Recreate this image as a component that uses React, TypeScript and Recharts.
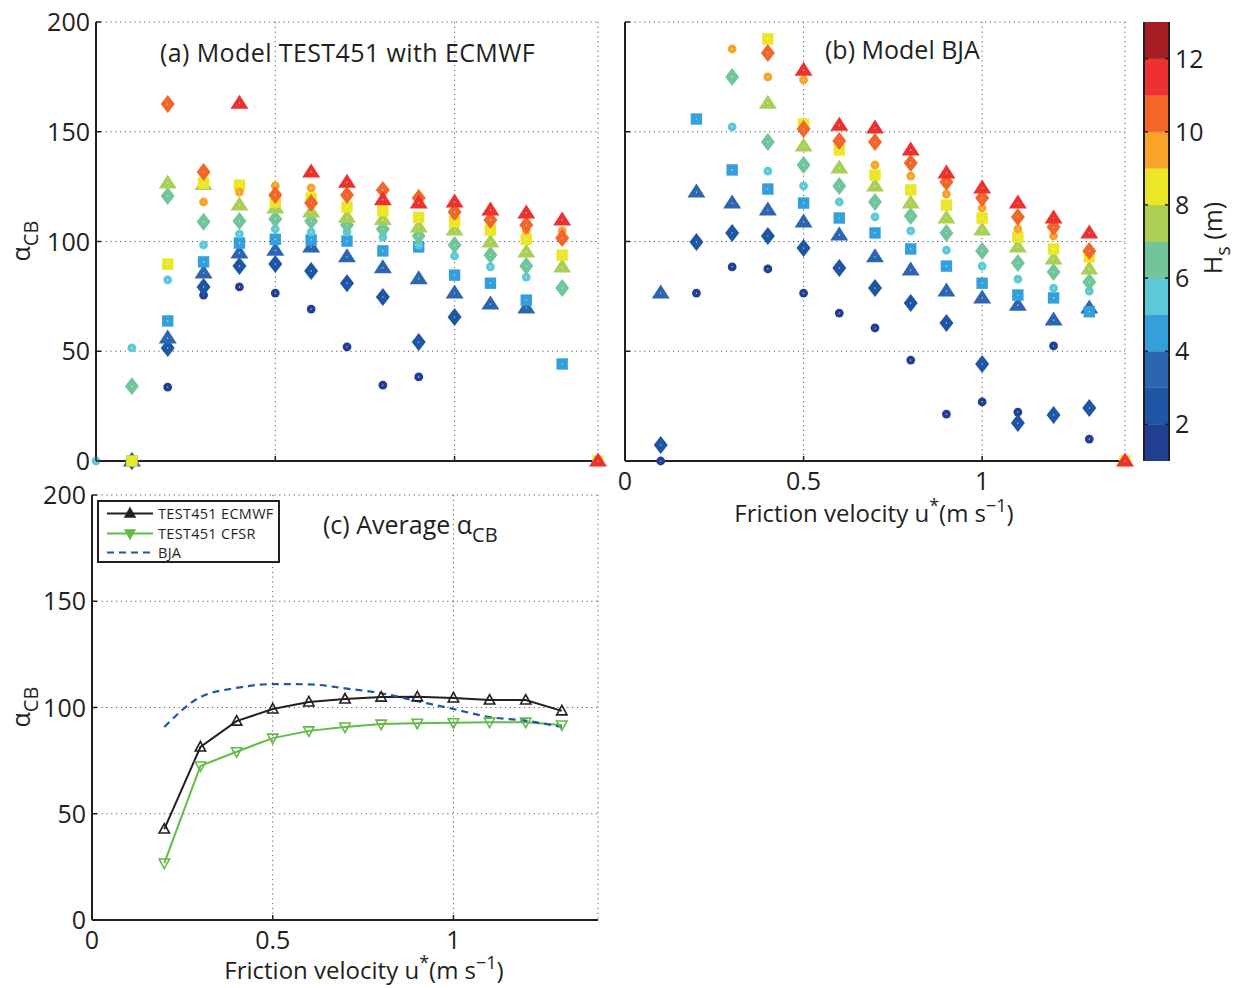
import React from 'react';
import {
  ScatterChart, Scatter, XAxis, YAxis, CartesianGrid,
  LineChart, Line, Legend, BarChart, Bar,
} from 'recharts';

const INK = '#231f20';
const GRID = '#58595b';
const FONT = '"Open Sans", "Noto Sans", sans-serif';

// friction velocity u* (m/s)
const uStar = [0, 0.1, 0.2, 0.3, 0.4, 0.5, 0.6, 0.7, 0.8, 0.9, 1.0, 1.1, 1.2, 1.3, 1.4];

// Hs colour bins (m)
const hsEdges = [1, 2, 3, 4, 5, 6, 7, 8, 9, 10, 11, 12, 13];
const hsColors = ['#233f92', '#1e56a5', '#2c66b1', '#34a0db', '#5cc8d8', '#72c59a', '#a9cf54', '#ebe727', '#f8a42b', '#f26729', '#ed3131', '#a51d23'];
const hsMarkers = ['dot', 'diamond', 'triangle', 'square', 'dot', 'diamond', 'triangle', 'square', 'dot', 'diamond', 'triangle', 'square'];
const hsTicks = [2, 4, 6, 8, 10, 12];

const xTicks = [0, 0.5, 1];
const yTicks = [0, 50, 100, 150, 200];

// (a) Model TEST451 with ECMWF — alpha_CB per Hs bin, indexed like uStar
const aHs1 = [null, null, 33.7, 75.6, 79.3, 76.5, 69.2, 52, 34.6, 38.3, null, null, null, null, null];
const aHs2 = [null, 0, 51.5, 79.3, 88.8, 89.7, 86.6, 81, 74.7, 54.2, 65.6, null, null, null, null];
const aHs3 = [null, 0, 56, 85.6, 94.8, 96, 97.5, 93, 88, 83, 76.5, 71.5, 69.7, null, null];
const aHs4 = [null, 0, 63.8, 90.7, 99.3, 101, 100.7, 100.2, 95.7, 97.5, 84.7, 81, 73.3, 44.2, null];
const aHs5 = [0, 51.5, 82.5, 98.4, 103.4, 105.7, 104.3, 104.3, 102, 98.4, 93.4, 88.4, 83.8, null, null];
const aHs6 = [null, 34, 120.7, 109, 109.3, 110.3, 109.3, 107.5, 105.7, 102.5, 98.4, 93.8, 88.8, 78.8, null];
const aHs7 = [null, null, 126.6, 126, 116.6, 115.3, 113.4, 111, 110, 106.6, 105.2, 99.8, 95.2, 88.4, null];
const aHs8 = [null, 0, 89.7, 126.6, 125.7, 118, 119.8, 115.7, 114, 111, 109, 105.2, 101, 93.8, 0];
const aHs9 = [null, null, null, 118, 122.5, 125.3, 124.4, 121, 123, 119.5, 112, 110, 105, 104.8, 0];
const aHs10 = [null, null, 162.6, 131.7, null, 121.2, 117.5, 121.2, 123.5, 119.8, 113.4, 109.8, 107.5, 101.6, null];
const aHs11 = [null, null, null, null, 163, null, 131.7, 127, 119, 117.5, 118, 114.4, 113, 109.8, 0];
const aSeries = [aHs1, aHs2, aHs3, aHs4, aHs5, aHs6, aHs7, aHs8, aHs9, aHs10, aHs11];

// (b) Model BJA
const bHs1 = [null, 0, 76.5, 88.4, 87.5, 76.5, 67.4, 60.6, 46, 21.4, 26.9, 22.3, 52.4, 10, null];
const bHs2 = [null, 7.3, 99.8, 103.9, 102.5, 97, 87.9, 78.8, 72, 62.9, 44.2, 17.3, 21, 24.1, null];
const bHs3 = [null, 76.5, 122.5, 117.5, 114.4, 108.9, 103, 93, 87, 77.4, 74.3, 71, 64.2, 69.7, null];
const bHs4 = [null, null, 155.8, 132.6, 123.9, 117.5, 110.7, 103.9, 96.6, 88.8, 81, 75.6, 74.3, 68, null];
const bHs5 = [null, null, null, 152.2, 132.1, 125.3, 118, 111.2, 104.8, 96.1, 88.8, 82.9, 78.8, 77.4, null];
const bHs6 = [null, null, null, 175, 145.3, 134.9, 125.3, 118, 111.6, 103.9, 95.7, 90.2, 86.1, 81.5, null];
const bHs7 = [null, null, null, null, 163, 143.5, 133.5, 125.3, 117.5, 110.7, 105.2, 97.5, 92, 87.5, null];
const bHs8 = [null, null, null, null, 192.3, 153.5, 141.7, 130.3, 123.5, 116.6, 110.7, 102, 96.6, 93, 0];
const bHs9 = [null, null, null, 187.7, 175, 173.6, 146, 134.9, 129.8, 121.6, 115.3, 105.7, 102.5, 96, null];
const bHs10 = [null, null, null, null, 185.9, 151.3, 145.8, 145.3, 135.8, 127.1, 119.8, 111.2, 106.6, 95.7, null];
const bHs11 = [null, null, null, null, null, 178, 153, 151.7, 141.7, 131.2, 124.4, 117.5, 110.7, 103.9, 0];
const bSeries = [bHs1, bHs2, bHs3, bHs4, bHs5, bHs6, bHs7, bHs8, bHs9, bHs10, bHs11];

// (c) Average alpha_CB
const uC = [0.2, 0.3, 0.4, 0.5, 0.6, 0.7, 0.8, 0.9, 1.0, 1.1, 1.2, 1.3];
const ecmwfAvg = [42.8, 81.4, 93.6, 99.3, 102.6, 104, 104.9, 105, 104.5, 103.5, 103.5, 98.4];
const cfsrAvg = [26.8, 72.5, 79.2, 85.6, 89, 90.8, 92.2, 92.6, 92.8, 93.1, 93.1, 91.8];
const bjaAvg = [90.8, 104.9, 109.2, 111, 110.9, 109, 106.7, 103, 99.3, 95.5, 93.8, 90.8];
const legendLabels = ['TEST451 ECMWF', 'TEST451 CFSR', 'BJA'];

const toPoints = (vals: (number | null)[]) =>
  uStar.map((u, i) => ({ u, v: vals[i] })).filter((p) => p.v !== null);

const cRows = uC.map((u, i) => ({ u, ecmwf: ecmwfAvg[i], cfsr: cfsrAvg[i], bja: bjaAvg[i] }));

// colour bar as one stacked bar: an invisible base up to the first edge, then one segment per bin
const cbRow: any = { c: 'Hs', base: hsEdges[0] };
hsColors.forEach((_, i) => {
  cbRow[`h${i}`] = hsEdges[i + 1] - hsEdges[i];
});
const cbData = [cbRow];

function markerShape(kind: string, color: string) {
  return (props: any) => {
    const { cx, cy } = props;
    if (typeof cx !== 'number' || typeof cy !== 'number') return <g />;
    let el: any;
    if (kind === 'dot') el = <circle cx={cx} cy={cy} r={4.4} fill={color} />;
    else if (kind === 'diamond')
      el = <path d={`M${cx},${cy - 9}L${cx + 7},${cy}L${cx},${cy + 9}L${cx - 7},${cy}Z`} fill={color} />;
    else if (kind === 'triangle')
      el = <path d={`M${cx},${cy - 8.5}L${cx + 9},${cy + 5.5}L${cx - 9},${cy + 5.5}Z`} fill={color} />;
    else el = <rect x={cx - 5.7} y={cy - 5.7} width={11.4} height={11.4} fill={color} />;
    return (
      <g>
        {el}
        <circle cx={cx} cy={cy} r={0.6} fill="#fff" />
      </g>
    );
  };
}

const TM = 8;
const TICK_FS = 25;
const leftTick = (withLabel: boolean, len = 5) => (props: any) => {
  const { x, y, payload } = props;
  const ax = x + TM;
  return (
    <g>
      <line x1={ax} y1={y} x2={ax + len} y2={y} stroke={INK} strokeWidth={1.5} />
      {withLabel ? (
        <text x={ax - 6} y={y + 9} textAnchor="end" fontFamily={FONT} fontSize={TICK_FS} fill={INK}>
          {payload.value}
        </text>
      ) : null}
    </g>
  );
};
const bottomTick = (withLabel: boolean) => (props: any) => {
  const { x, y, payload } = props;
  const ay = y - TM;
  return (
    <g>
      <line x1={x} y1={ay} x2={x} y2={ay - 5} stroke={INK} strokeWidth={1.5} />
      {withLabel ? (
        <text x={x} y={ay + 29} textAnchor="middle" fontFamily={FONT} fontSize={TICK_FS} fill={INK}>
          {payload.value}
        </text>
      ) : null}
    </g>
  );
};
const cbRightTick = (props: any) => {
  const { x, y, payload } = props;
  const ax = x - TM;
  return (
    <g>
      <line x1={ax} y1={y} x2={ax - 4} y2={y} stroke={INK} strokeWidth={1.5} />
      <text x={ax + 6} y={y + 9} textAnchor="start" fontFamily={FONT} fontSize={TICK_FS} fill={INK}>
        {payload.value}
      </text>
    </g>
  );
};

const axisLine = { stroke: INK, strokeWidth: 2 };

function ScatterPanel(props: { series: (number | null)[][]; width: number; height: number; margin: any; yWidth: number; xHeight: number; yLabels: boolean; xLabels: boolean }) {
  const { series, width, height, margin, yWidth, xHeight, yLabels, xLabels } = props;
  return (
    <ScatterChart width={width} height={height} margin={margin}>
      <CartesianGrid stroke={GRID} strokeDasharray="1.2 3.6" strokeWidth={1} />
      <XAxis
        type="number" dataKey="u" domain={[0, 1.4]} ticks={xTicks} interval={0} height={xHeight}
        tickSize={0} tickMargin={TM} tickLine={false} tick={bottomTick(xLabels)} axisLine={axisLine}
      />
      <YAxis
        type="number" dataKey="v" domain={[0, 200]} ticks={yTicks} interval={0} width={yWidth}
        tickSize={0} tickMargin={TM} tickLine={false} tick={leftTick(yLabels)} axisLine={axisLine}
      />
      {series.map((vals, i) => (
        <Scatter
          key={i}
          data={toPoints(vals)}
          fill={hsColors[i]}
          shape={markerShape(hsMarkers[i], hsColors[i])}
          isAnimationActive={false}
        />
      ))}
    </ScatterChart>
  );
}

const upTriDot = (props: any) => {
  const { cx, cy, index } = props;
  return (
    <path key={`e${index}`} d={`M${cx},${cy - 5.5}L${cx + 5.2},${cy + 4}L${cx - 5.2},${cy + 4}Z`} fill="none" stroke={INK} strokeWidth={1.6} />
  );
};
const downTriDot = (props: any) => {
  const { cx, cy, index } = props;
  return (
    <path key={`c${index}`} d={`M${cx},${cy + 5.5}L${cx + 5.2},${cy - 4}L${cx - 5.2},${cy - 4}Z`} fill="none" stroke="#62bb46" strokeWidth={1.6} />
  );
};

const legendStyles = [
  { color: INK, dash: undefined as string | undefined, marker: 'up' },
  { color: '#62bb46', dash: undefined as string | undefined, marker: 'down' },
  { color: '#1f56a8', dash: '7 5', marker: 'none' },
];

const renderLegend = () => (
  <div
    style={{
      boxSizing: 'border-box', width: 183, height: 63, border: `2px solid ${INK}`, background: '#fff',
      fontFamily: FONT, fontSize: 14.5, color: INK, position: 'relative',
    }}
  >
    {legendLabels.map((lab, i) => {
      const st = legendStyles[i];
      const top = [4, 23.5, 43][i];
      return (
        <div key={lab} style={{ position: 'absolute', left: 8, top, height: 15, display: 'flex', alignItems: 'center', whiteSpace: 'nowrap', lineHeight: '15px' }}>
          <svg width={48} height={15} style={{ display: 'block' }}>
            <line x1={0} y1={7.5} x2={46} y2={7.5} stroke={st.color} strokeWidth={2} strokeDasharray={st.dash} />
            {st.marker === 'up' ? <path d="M23,2L28,11L18,11Z" fill={INK} stroke={INK} strokeWidth={1.4} /> : null}
            {st.marker === 'down' ? <path d="M23,13L28,4L18,4Z" fill="#62bb46" stroke="#62bb46" strokeWidth={1.4} /> : null}
          </svg>
          <span style={{ marginLeft: 3, display: 'inline-block', height: 15, lineHeight: '15px', letterSpacing: '0.3px' }}>{lab}</span>
        </div>
      );
    })}
  </div>
);

const textBase: any = {
  position: 'absolute', fontFamily: FONT, fontSize: 25, color: INK, whiteSpace: 'nowrap', lineHeight: '25px',
};
const subStyle: any = { fontSize: '0.8em', position: 'relative', top: '0.38em' };
const supStyle: any = { fontSize: '0.75em', position: 'relative', top: '-0.55em' };

export default function App() {
  return (
    <div style={{ position: 'absolute', left: 0, top: 0, width: 1240, height: 988, background: '#fff', overflow: 'hidden' }}>
      {/* panel (a) */}
      <div style={{ position: 'absolute', left: 0, top: 0 }}>
        <ScatterPanel series={aSeries} width={620} height={480} margin={{ top: 22, right: 22, bottom: 0, left: 0 }} yWidth={96} xHeight={19} yLabels xLabels={false} />
      </div>
      {/* panel (b) */}
      <div style={{ position: 'absolute', left: 600, top: 0 }}>
        <ScatterPanel series={bSeries} width={550} height={540} margin={{ top: 22, right: 25, bottom: 0, left: 20 }} yWidth={5} xHeight={79} yLabels={false} xLabels />
      </div>
      {/* colour bar */}
      <div style={{ position: 'absolute', left: 1130, top: 0 }}>
        <BarChart width={110} height={480} margin={{ top: 22, right: 0, bottom: 19, left: 0 }} data={cbData} barCategoryGap={0}>
          <XAxis xAxisId="b" dataKey="c" type="category" height={0} tick={false} tickLine={false} axisLine={axisLine} />
          <XAxis xAxisId="t" dataKey="c" type="category" orientation="top" height={0} tick={false} tickLine={false} axisLine={axisLine} />
          <YAxis
            yAxisId="l" type="number" orientation="left" domain={[hsEdges[0], hsEdges[hsEdges.length - 1]]} allowDataOverflow
            ticks={hsTicks} interval={0} width={14} tickSize={0} tickMargin={TM} tickLine={false} tick={leftTick(false, 4)} axisLine={axisLine}
          />
          <YAxis
            yAxisId="r" type="number" orientation="right" domain={[hsEdges[0], hsEdges[hsEdges.length - 1]]} allowDataOverflow
            ticks={hsTicks} interval={0} width={71} tickSize={0} tickMargin={TM} tickLine={false} tick={cbRightTick} axisLine={axisLine}
          />
          <Bar xAxisId="b" yAxisId="r" dataKey="base" stackId="s" fill="none" isAnimationActive={false} />
          {hsColors.map((c, i) => (
            <Bar key={i} xAxisId="b" yAxisId="r" dataKey={`h${i}`} stackId="s" fill={c} stroke={c} strokeWidth={0.5} isAnimationActive={false} />
          ))}
        </BarChart>
      </div>
      {/* panel (c) */}
      <div style={{ position: 'absolute', left: 0, top: 470 }}>
        <LineChart width={620} height={518} margin={{ top: 25, right: 22, bottom: 0, left: 0 }} data={cRows}>
          <CartesianGrid stroke={GRID} strokeDasharray="1.2 3.6" strokeWidth={1} />
          <XAxis
            type="number" dataKey="u" domain={[0, 1.4]} ticks={xTicks} interval={0} height={68}
            tickSize={0} tickMargin={TM} tickLine={false} tick={bottomTick(true)} axisLine={axisLine}
          />
          <YAxis
            type="number" domain={[0, 200]} ticks={yTicks} interval={0} width={92}
            tickSize={0} tickMargin={TM} tickLine={false} tick={leftTick(true)} axisLine={axisLine}
          />
          <Line dataKey="ecmwf" type="linear" stroke={INK} strokeWidth={2} dot={upTriDot} isAnimationActive={false} />
          <Line dataKey="cfsr" type="linear" stroke="#62bb46" strokeWidth={2} dot={downTriDot} isAnimationActive={false} />
          <Line dataKey="bja" type="monotone" stroke="#1f56a8" strokeWidth={2.2} strokeDasharray="7 5" dot={false} isAnimationActive={false} />
          <Legend
            layout="vertical" align="center" verticalAlign="middle" content={renderLegend}
            wrapperStyle={{ left: 97, top: 30, width: 183, height: 63 }}
          />
        </LineChart>
      </div>

      {/* titles and labels */}
      <div style={{ ...textBase, left: 160, top: 40, letterSpacing: '0.4px' }}>(a) Model TEST451 with ECMWF</div>
      <div style={{ ...textBase, left: 825, top: 37 }}>(b) Model BJA</div>
      <div style={{ ...textBase, left: 323, top: 512 }}>
        (c) Average α<span style={subStyle}>CB</span>
      </div>
      <div style={{ ...textBase, left: 21, top: 241, transform: 'translate(-50%,-50%) rotate(-90deg)' }}>
        α<span style={subStyle}>CB</span>
      </div>
      <div style={{ ...textBase, left: 21, top: 707, transform: 'translate(-50%,-50%) rotate(-90deg)' }}>
        α<span style={subStyle}>CB</span>
      </div>
      <div style={{ ...textBase, fontSize: 24, left: 874 - 250, width: 500, textAlign: 'center', top: 500 }}>
        Friction velocity u<span style={supStyle}>*</span>(m s<span style={supStyle}>−1</span>)
      </div>
      <div style={{ ...textBase, fontSize: 24, left: 364 - 250, width: 500, textAlign: 'center', top: 957 }}>
        Friction velocity u<span style={supStyle}>*</span>(m s<span style={supStyle}>−1</span>)
      </div>
      <div style={{ ...textBase, left: 1213, top: 238, transform: 'translate(-50%,-50%) rotate(-90deg)' }}>
        H<span style={subStyle}>s</span> (m)
      </div>
    </div>
  );
}
